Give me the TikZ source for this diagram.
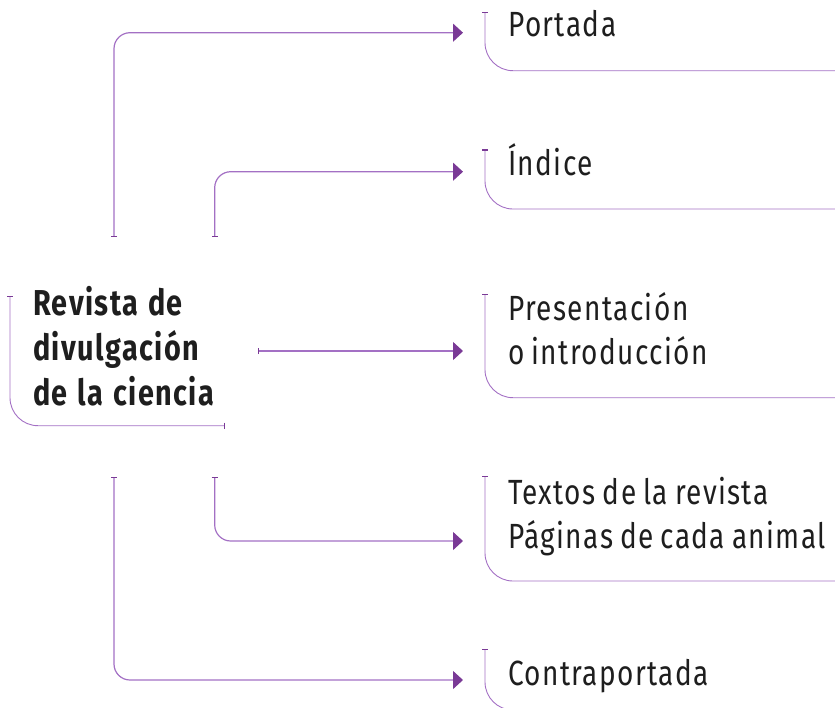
\documentclass[tikz,border=0pt]{standalone}
\usepackage{fontspec}
\setmainfont{Fira Sans}[FakeStretch=0.8, LetterSpace=4, WordSpace=0.8]
\newfontfamily\headfont{Fira Sans}[FakeStretch=0.8, LetterSpace=4, WordSpace=1.2]
\usetikzlibrary{positioning, arrows.meta, calc}
\definecolor{linepurple}{RGB}{163,112,196}
\definecolor{arrowpurple}{RGB}{122,58,150}
\definecolor{textdark}{RGB}{30,30,30}
\tikzset{
  boxline/.style={draw=linepurple, line width=0.9pt, rounded corners=28pt},
  tick/.tip={Bar[width=6pt, line width=1.2pt, color=arrowpurple]},
  head/.tip={Triangle[length=10pt, width=18pt, color=arrowpurple]},
  link/.style={draw=linepurple, line width=1.2pt, rounded corners=16pt, tick-head},
  itemtext/.style={anchor=base west, inner sep=0pt, text=textdark, align=left,
    font=\fontsize{35}{44}\selectfont},
  maintext/.style={itemtext, font=\headfont\fontsize{36}{45}\selectfont\bfseries},
}

\begin{document}
\begin{tikzpicture}[x=1pt, y=-1pt]
    \useasboundingbox (0,0) rectangle (835,707);
    % Central box (base = last line)
    \node[maintext] (revista) at (33,405) {Revista de\\divulgación\\de la ciencia};
    \draw[boxline, tick-tick] (10,296) |- (225,425.7);
    % Right boxes
    \node[itemtext] (portada) at (508,36.7) {Portada};
    \draw[boxline, tick-] (485,11.7) |- (835,70.7);
    \node[itemtext] (indice) at (508,175) {Índice};
    \draw[boxline, tick-] (485,149.3) |- (835,209);
    \node[itemtext] (presentacion) at (508,364) {Presentación\\o introducción};
    \draw[boxline, tick-] (485,294) |- (835,397.7);
    \node[itemtext] (textos) at (508,548) {Textos de la revista\\Páginas de cada animal};
    \draw[boxline, tick-] (485,476) |- (835,581);
    \node[itemtext] (contraportada) at (508,685) {Contraportada};
    \draw[boxline, tick-] (485,649) |- (835,710);
    % Connector ends
    \coordinate (outA) at (114,236.7);
    \coordinate (outB) at (214.7,236.7);
    \coordinate (outC) at (258,351);
    \coordinate (outD) at (214.7,477);
    \coordinate (outE) at (114,477);
    \coordinate (inPortada) at (463,32.7);
    \coordinate (inIndice) at (463,171.7);
    \coordinate (inPresentacion) at (463,351);
    \coordinate (inTextos) at (463,541);
    \coordinate (inContraportada) at (463,680);
    % Connectors
    \draw[link] (outA) |- (inPortada);
    \draw[link] (outB) |- (inIndice);
    \draw[link] (outC) -- (inPresentacion);
    \draw[link] (outD) |- (inTextos);
    \draw[link] (outE) |- (inContraportada);
\end{tikzpicture}
\end{document}
